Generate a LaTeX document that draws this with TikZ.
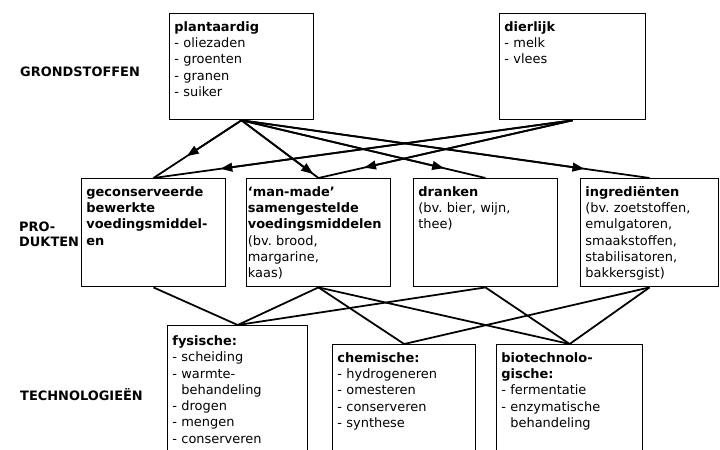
\documentclass[tikz,border=0pt]{standalone}
\usepackage{fontspec}
\setmainfont{DejaVu Sans}
\usetikzlibrary{arrows.meta,calc}
\frenchspacing

\tikzset{
  box/.style={draw, line width=1.2pt, anchor=north west, align=left,
    inner xsep=4pt, inner ysep=3pt, text height=12pt,
    font=\fontsize{11}{13.8}\selectfont},
  level/.style={anchor=west, align=left, inner xsep=0pt,
    font=\fontsize{11}{13}\selectfont\bfseries},
  link/.style={line width=1.5pt},
}

\begin{document}
\begin{tikzpicture}[x=0.85pt, y=-0.85pt, >={Triangle[length=10pt,width=7.5pt]}]
    \useasboundingbox (0,0) rectangle (720,449);
    \clip (0,0) rectangle (720,449);

    % rows on the left
    \node[level] (grond) at (20,72) {GRONDSTOFFEN};
    \node[level] (prod) at (19,234) {PRO-\\DUKTEN};
    \node[level] (tech) at (20,395) {TECHNOLOGIEËN};

    % grondstoffen
    \node[box, text width=114pt, text depth=72pt] (plant) at (169,13)
        {\textbf{plantaardig}\\- oliezaden\\- groenten\\- granen\\- suiker};
    \node[box, text width=116pt, text depth=72pt] (dier) at (499,13)
        {\textbf{dierlijk}\\- melk\\- vlees};

    % produkten
    \node[box, text width=114pt, text depth=73.8pt] (gecons) at (81,178)
        {\textbf{geconserveerde}\\\textbf{bewerkte}\\\textbf{voedingsmiddel-}\\\textbf{en}};
    \node[box, inner xsep=1pt, text width=120pt, text depth=73.8pt] (manmade) at (246,178)
        {\textbf{`man-made'}\\\textbf{samengestelde}\\\textbf{voedingsmiddelen}\\(bv. brood,\\margarine,\\kaas)};
    \node[box, text width=114pt, text depth=73.8pt] (dranken) at (413,178)
        {\textbf{dranken}\\(bv. bier, wijn,\\thee)};
    \node[box, text width=109pt, text depth=73.8pt] (ingred) at (580,178)
        {\textbf{ingrediënten}\\(bv. zoetstoffen,\\emulgatoren,\\smaakstoffen,\\stabilisatoren,\\bakkersgist)};

    % technologieen
    \node[box, text width=111pt, text height=14pt, text depth=130pt] (fys) at (167,325)
        {\textbf{fysische:}\\- scheiding\\- warmte-\\\hphantom{- }behandeling\\- drogen\\- mengen\\- conserveren};
    \node[box, text width=113.5pt, text depth=130pt] (chem) at (332,344)
        {\textbf{chemische:}\\- hydrogeneren\\- omesteren\\- conserveren\\- synthese};
    \node[box, text width=116pt, text depth=130pt] (biotech) at (496,344)
        {\textbf{biotechnolo-}\\\textbf{gische:}\\- fermentatie\\- enzymatische\\\hphantom{- }behandeling};

    % grondstoffen -> produkten
    \foreach \src/\dst/\pos in {plant/gecons/0.62, dier/gecons/0.84, plant/manmade/0.93,
        dier/manmade/0.82, plant/dranken/0.83, plant/ingred/0.84} {
        \draw[link] (\src.south) -- (\dst.north);
        \draw[link, ->] (\src.south) -- ($(\src.south)!\pos!(\dst.north)$);
    }

    % produkten -- technologieen
    \foreach \src/\dst in {gecons/fys, manmade/fys, dranken/fys, manmade/chem,
        ingred/chem, manmade/biotech, dranken/biotech, ingred/biotech}
        \draw[link] (\src.south) -- (\dst.north);
\end{tikzpicture}
\end{document}
